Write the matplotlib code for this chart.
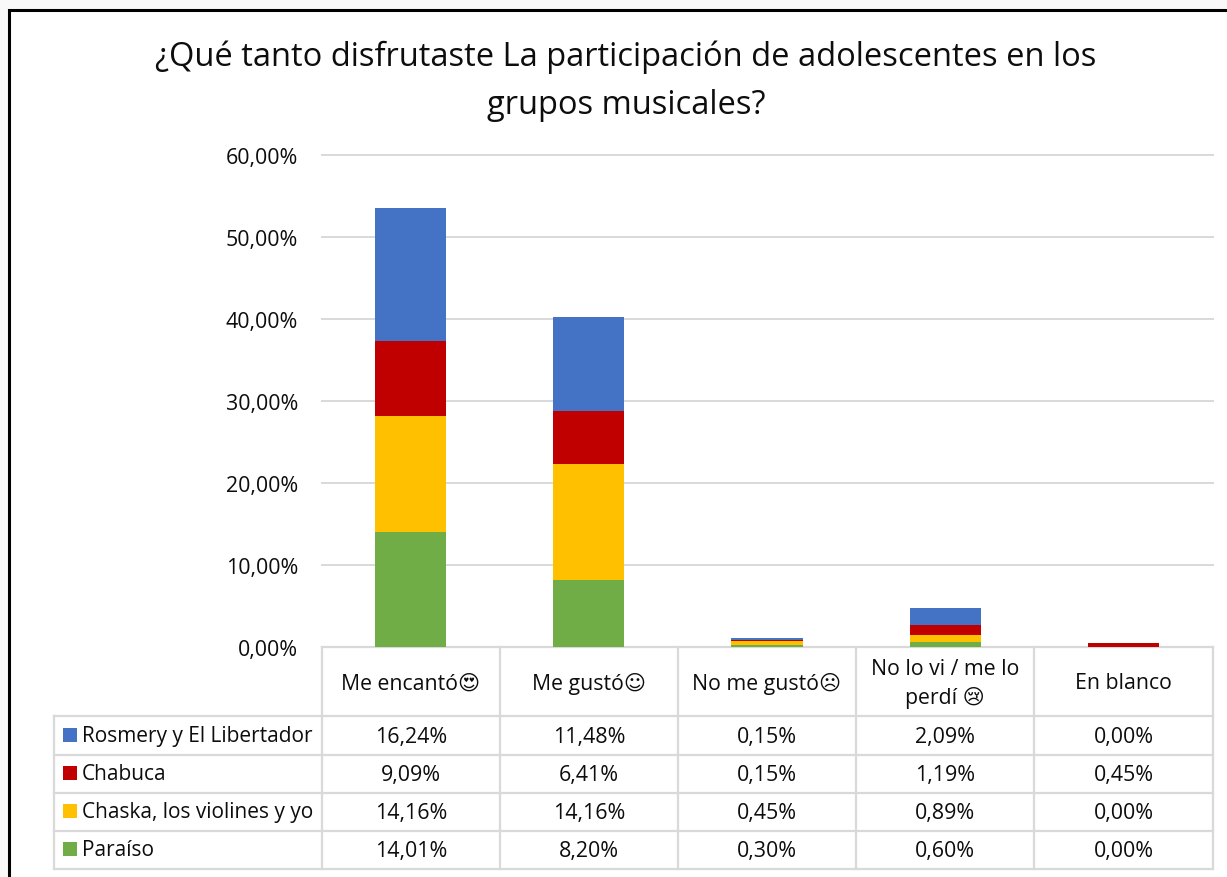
import matplotlib.pyplot as plt
from matplotlib.patches import Rectangle

plt.rcParams['font.family'] = ['Open Sans', 'DejaVu Sans']

categories = ['Me encantó\U0001F60D', 'Me gustó\u263A', 'No me gustó\u2639', 'No lo vi / me lo\nperdí \U0001F622', 'En blanco']
series_names = ['Rosmery y El Libertador', 'Chabuca', 'Chaska, los violines y yo', 'Paraíso']
rosmery = [16.24, 11.48, 0.15, 2.09, 0.00]
chabuca = [9.09, 6.41, 0.15, 1.19, 0.45]
chaska = [14.16, 14.16, 0.45, 0.89, 0.00]
paraiso = [14.01, 8.20, 0.30, 0.60, 0.00]
series_values = [rosmery, chabuca, chaska, paraiso]
colors = ['#4472C4', '#C00000', '#FFC000', '#70AD47']
yticks = [0, 10, 20, 30, 40, 50, 60]

W, H = 1227, 878
grid_col = '#D9D9D9'
col_edges = [322, 500, 678, 856, 1034, 1213]
row_edges = [717, 756, 794, 832, 870]
legend_left = 54
axis_y0 = 648
axis_y60 = 156

fig = plt.figure(figsize=(W / 100, H / 100), dpi=100, facecolor='#F9F9F9')

# white frame with black border, cut by the right and bottom of the picture
bg = fig.add_axes([0, 0, 1, 1])
bg.set_xlim(0, W)
bg.set_ylim(H, 0)
bg.axis('off')
bg.add_patch(Rectangle((9, 11), W + 20, H + 20, fc='white', ec='black', lw=2.2))

bg.text(626, 81, '¿Qué tanto disfrutaste La participación de adolescentes en los\ngrupos musicales?',
        ha='center', va='center', fontsize=23.5, color='#0D0D0D', linespacing=1.58)

# table lines
for x in col_edges:
    bg.plot([x, x], [axis_y0, row_edges[-1]], color=grid_col, lw=1.6, zorder=2)
bg.plot([legend_left, legend_left], [row_edges[0], row_edges[-1]], color=grid_col, lw=1.6, zorder=2)
bg.plot([col_edges[0], col_edges[-1]], [axis_y0, axis_y0], color=grid_col, lw=1.6, zorder=2)
for y in row_edges:
    bg.plot([legend_left, col_edges[-1]], [y, y], color=grid_col, lw=1.6, zorder=2)

# category headers
for i, c in enumerate(categories):
    bg.text((col_edges[i] + col_edges[i + 1]) / 2, 684, c, ha='center', va='center',
            fontsize=15.3, color='#0D0D0D', linespacing=1.45)

# legend column and values
for r, name in enumerate(series_names):
    yc = (row_edges[r] + row_edges[r + 1]) / 2
    bg.add_patch(Rectangle((63, yc - 8), 14, 14, fc=colors[r], ec='none'))
    bg.text(82, yc, name, ha='left', va='center', fontsize=15, color='#0D0D0D')
    for i, v in enumerate(series_values[r]):
        label = f'{v:.2f}%'.replace('.', ',')
        bg.text((col_edges[i] + col_edges[i + 1]) / 2, yc + 1, label, ha='center', va='center',
                fontsize=15.4, color='#0D0D0D')

# bar chart
ax = fig.add_axes([col_edges[0] / W, 1 - axis_y0 / H, (col_edges[-1] - col_edges[0]) / W, (axis_y0 - axis_y60) / H])
ax.patch.set_alpha(0)
ax.set_xlim(-0.497, 4.503)
ax.set_ylim(0, 60)
bottom = [0, 0, 0, 0, 0]
for r in [3, 2, 1, 0]:
    ax.bar(range(5), series_values[r], 0.4, bottom=bottom, color=colors[r], zorder=3)
    bottom = [b + v for b, v in zip(bottom, series_values[r])]
ax.set_yticks(yticks)
ax.set_yticklabels([f'{t},00%' for t in yticks], fontsize=15.4, color='#0D0D0D')
ax.set_xticks([])
ax.tick_params(axis='y', length=0, pad=17.3)
ax.grid(axis='y', color=grid_col, lw=1.4, zorder=0, clip_on=False)
ax.set_axisbelow(True)
for s in ax.spines.values():
    s.set_visible(False)

fig.savefig('out.png', dpi=100, facecolor=fig.get_facecolor())
